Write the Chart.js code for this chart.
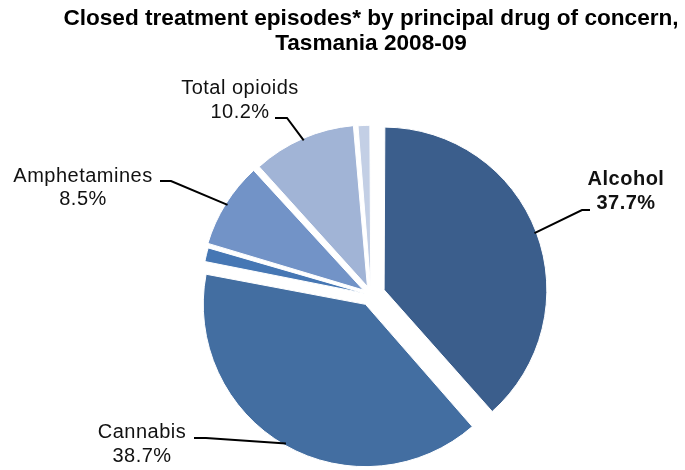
<!DOCTYPE html>
<html>
<head>
<meta charset="utf-8">
<script src="https://cdn.jsdelivr.net/npm/chart.js@4/dist/chart.umd.min.js"></script>
<style>
  html, body { margin: 0; padding: 0; background: #ffffff; }
  #wrap { width: 685px; height: 470px; position: relative; }
</style>
</head>
<body>
<div id="wrap"><canvas id="c" width="685" height="470"></canvas></div>
<script>
// ---- data ----
const categories = ['Alcohol', 'Cannabis', 'Other (unlabelled) A', 'Amphetamines', 'Total opioids', 'Other (unlabelled) B'];
const shares = [37.7, 38.7, 1.5, 8.5, 10.2, 1.3];
const shownLabels = ['Alcohol', 'Cannabis', '', 'Amphetamines', 'Total opioids', ''];
const shownValues = ['37.7%', '38.7%', '', '8.5%', '10.2%', ''];
const titleLines = ['Closed treatment episodes* by principal drug of concern,', 'Tasmania 2008-09'];

// ---- styles / layout ----
const colors = ['#3B5E8C', '#436EA1', '#4677B4', '#7293C7', '#A1B4D6', '#C3CFE5'];
const explodePx = [14, 11, 6, 9, 9, 6];
// label layout: text centre x, baseline of line1, baseline of line2, leader start, leader bend, bold
const labelLayout = [
  {cx: 626, y1: 185, y2: 209, sx: 590, sy: 210, bx: 582, by: 210, bold: true},
  {cx: 142, y1: 438, y2: 462, sx: 194, sy: 438, bx: 206, by: 438, bold: false},
  null,
  {cx: 83, y1: 182, y2: 205, sx: 160, sy: 181, bx: 171, by: 181, bold: false},
  {cx: 240, y1: 94, y2: 118, sx: 275, sy: 118, bx: 287, by: 118, bold: false},
  null
];

const labelPlugin = {
  id: 'leaderLabels',
  afterDatasetsDraw(chart) {
    const ctx = chart.ctx;
    const meta = chart.getDatasetMeta(0);
    ctx.save();
    meta.data.forEach((arc, i) => {
      const L = labelLayout[i];
      if (!L) return;
      const mid = (arc.startAngle + arc.endAngle) / 2;
      const t = (arc.options.offset || 0) / 4;
      const circ = arc.endAngle - arc.startAngle;
      const fix = 1 - Math.sin(Math.min(Math.PI, circ));
      const r = arc.outerRadius + t * fix + t - 2;
      const px = arc.x + Math.cos(mid) * r;
      const py = arc.y + Math.sin(mid) * r;
      ctx.strokeStyle = '#000000';
      ctx.lineWidth = 2;
      ctx.beginPath();
      ctx.moveTo(L.sx, L.sy);
      ctx.lineTo(L.bx, L.by);
      ctx.lineTo(px, py);
      ctx.stroke();
      ctx.fillStyle = '#111111';
      ctx.textAlign = 'center';
      ctx.textBaseline = 'alphabetic';
      ctx.font = (L.bold ? 'bold ' : '') + '20px "Liberation Sans", Arial, sans-serif';
      try { ctx.letterSpacing = '0.5px'; } catch (e) {}
      ctx.fillText(shownLabels[i], L.cx, L.y1);
      ctx.fillText(shownValues[i], L.cx, L.y2);
    });
    ctx.restore();
  }
};

new Chart(document.getElementById('c'), {
  type: 'pie',
  data: {
    labels: categories,
    datasets: [{
      data: shares,
      backgroundColor: colors,
      borderColor: '#ffffff',
      borderWidth: 1,
      offset: explodePx.map(v => v * 4),
      radius: 158,
      clip: false
    }]
  },
  options: {
    responsive: false,
    animation: false,
    layout: { padding: { left: 57, right: 0, top: 0, bottom: 0 } },
    plugins: {
      legend: { display: false },
      tooltip: { enabled: false },
      title: {
        display: true,
        text: titleLines,
        color: '#000000',
        font: { family: '"Liberation Sans", Arial, sans-serif', size: 22.6, weight: 'bold', lineHeight: 1.12 },
        padding: { top: 6, bottom: 63 }
      }
    }
  },
  plugins: [labelPlugin]
});
</script>
</body>
</html>
